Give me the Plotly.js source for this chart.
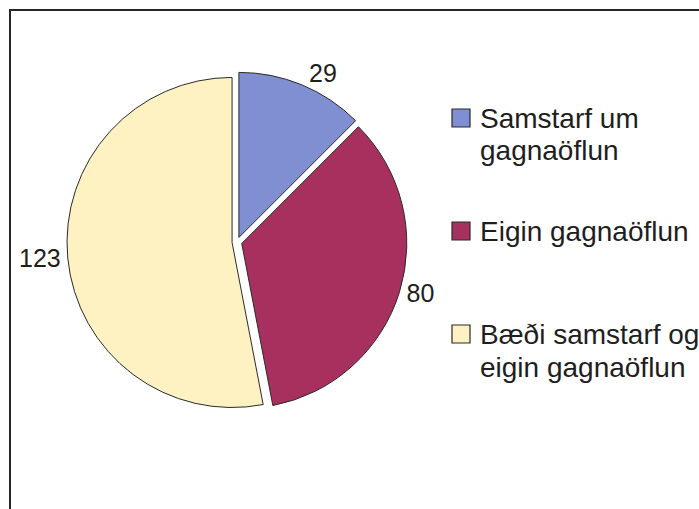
<!DOCTYPE html>
<html>
<head>
<meta charset="utf-8">
<script src="https://cdn.plot.ly/plotly-3.0.1.min.js"></script>
<style>html,body{margin:0;padding:0;background:#fff;}#chart{width:699px;height:509px;}</style>
</head>
<body>
<div id="chart"></div>
<script>
// Data
const categories = ["Samstarf um gagnaöflun", "Eigin gagnaöflun", "Bæði samstarf og eigin gagnaöflun"];
const legendLines = [["Samstarf um", "gagnaöflun"], ["Eigin gagnaöflun"], ["Bæði samstarf og", "eigin gagnaöflun"]];
const values = [29, 80, 123];
const colors = ["#7F8FD2", "#A8305F", "#FEF1C2"];

const W = 699, H = 509;
const px = x => x / W;
const py = y => 1 - y / H;

const trace = {
  type: "pie",
  labels: categories,
  values: values,
  sort: false,
  direction: "clockwise",
  rotation: 0,
  pull: [0.03, 0.03, 0.03],
  marker: { colors: colors, line: { color: "#2a2a2a", width: 1 } },
  textinfo: "value",
  textposition: "outside",
  outsidetextfont: { family: "Liberation Sans, Arial, sans-serif", size: 25, color: "#1e1e1e" },
  domain: { x: [px(67), px(407)], y: [py(412), py(72)] },
  showlegend: false,
  hoverinfo: "label+value"
};

// Legend built from category data
const itemTops = [118, 231, 334];   // vertical middle of first line per entry
const lineGap = 33;
const annotations = [];
const shapes = [{
  type: "rect", xref: "paper", yref: "paper",
  x0: px(10), x1: px(760), y0: py(560), y1: py(10),
  line: { color: "#262626", width: 2 }, fillcolor: "rgba(0,0,0,0)"
}];
legendLines.forEach((lines, i) => {
  shapes.push({
    type: "rect", xref: "paper", yref: "paper",
    x0: px(452), x1: px(470), y0: py(itemTops[i] + 9), y1: py(itemTops[i] - 9),
    fillcolor: colors[i], line: { color: "#2a2a2a", width: 1.2 }
  });
  lines.forEach((t, j) => {
    annotations.push({
      xref: "paper", yref: "paper",
      x: px(478), y: py(itemTops[i] + j * lineGap),
      xanchor: "left", yanchor: "middle",
      text: t, showarrow: false,
      font: { family: "Liberation Sans, Arial, sans-serif", size: 28, color: "#1e1e1e" }
    });
  });
});

const layout = {
  width: W, height: H,
  margin: { l: 0, r: 0, t: 0, b: 0 },
  paper_bgcolor: "#ffffff",
  showlegend: false,
  shapes: shapes,
  annotations: annotations
};

Plotly.newPlot("chart", [trace], layout, { displayModeBar: false, staticPlot: true });
</script>
</body>
</html>
